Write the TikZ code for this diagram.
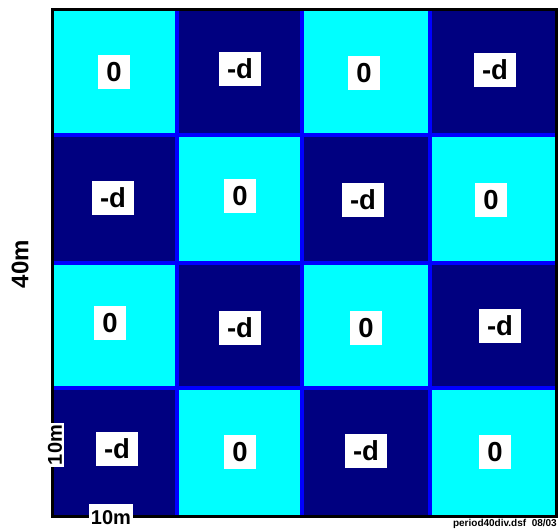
\documentclass[tikz,border=0pt]{standalone}
\usepackage{fontspec}
\setmainfont{Liberation Sans}
\usetikzlibrary{positioning}
\definecolor{lightcell}{RGB}{0,255,255}
\definecolor{darkcell}{RGB}{0,0,128}
\definecolor{gridblue}{RGB}{0,0,255}

\begin{document}
\begin{tikzpicture}[x=1pt,y=-1pt,
    valbox/.style={fill=white, inner xsep=8pt, inner ysep=0pt, minimum height=34pt,
      font=\fontsize{27.5}{27.5}\selectfont\bfseries},
    dimlab/.style={fill=white, inner sep=2pt, font=\fontsize{20}{20}\selectfont\bfseries}]
    \useasboundingbox (0,0) rectangle (558,529);
    % Checkerboard cells
    \foreach \c/\xa/\xb in {0/52/177, 1/177/302, 2/302/430, 3/430/556} {
      \foreach \r/\ya/\yb in {0/10/135, 1/135/263, 2/263/388, 3/388/516} {
        \ifodd\numexpr\c+\r\relax \def\cellcol{darkcell}\else \def\cellcol{lightcell}\fi
        \fill[\cellcol] (\xa,\ya) rectangle (\xb,\yb);
      }
    }
    % Cell borders
    \foreach \x in {177, 302, 430}
      \draw[gridblue, line width=4pt] (\x,10) -- (\x,516);
    \foreach \y in {135, 263, 388}
      \draw[gridblue, line width=4pt] (52,\y) -- (556,\y);
    % Outer frame
    \draw[black, line width=3pt] (52.5,10) rectangle (556,516.5);
    % Cell values
    \foreach \x/\y/\lab/\n in {114/72/0/1, 240/69/-d/2, 364/73/0/3, 495/70/-d/4,
        113/198/-d/5, 240/196/0/6, 363/200/-d/7, 491/200/0/8,
        110/323/0/9, 240/328/-d/10, 366/328/0/11, 500/326/-d/12,
        117/449/-d/13, 240/452/0/14, 366/451/-d/15, 495/452/0/16} {
      \node[valbox] (v\n) at (\x,\y) {\lab};
    }
    % Dimensions
    \node[font=\fontsize{24}{24}\selectfont\bfseries, rotate=90] (side) at (20,264) {40m};
    \node[dimlab, rotate=90] (cellh) at (55,445) {10m};
    \node[dimlab, minimum height=28pt] (cellw) at (111,518) {10m};
    % File tag
    \node[anchor=base east, inner sep=0pt, font=\fontsize{10}{10}\selectfont\bfseries]
      (tag) at (557,527) {period40div.dsf\ \ 08/03};
  \end{tikzpicture}
\end{document}
